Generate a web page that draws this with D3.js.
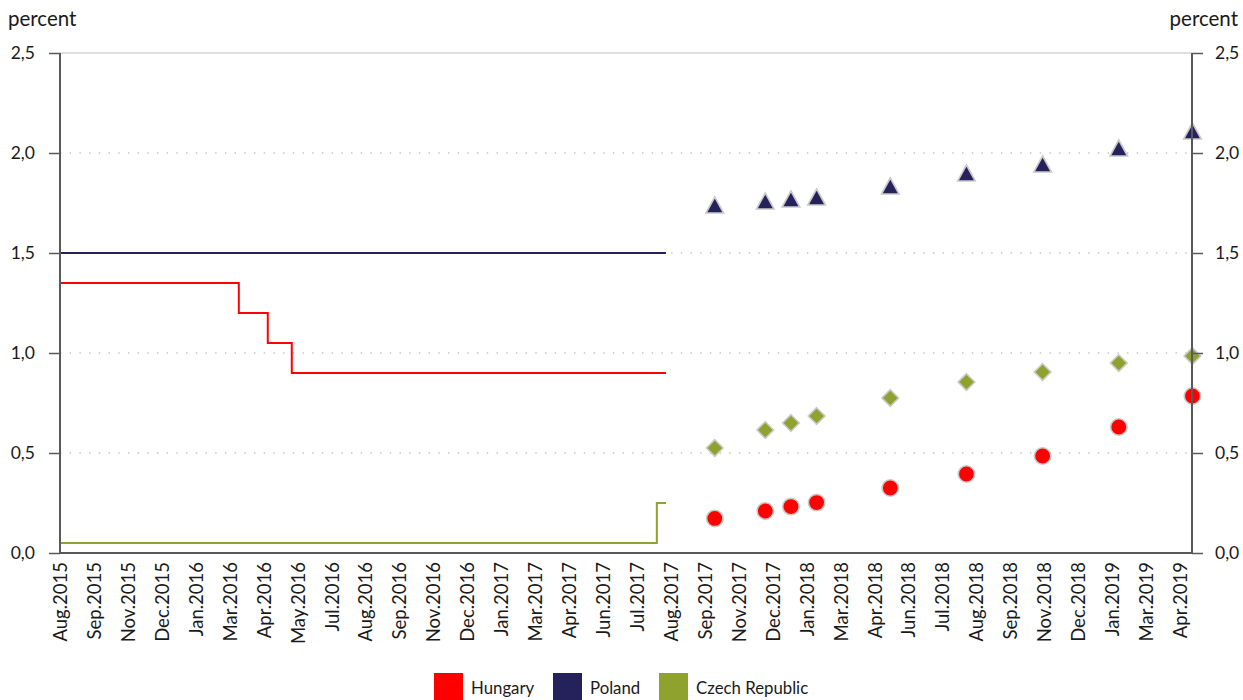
<!DOCTYPE html>
<html>
<head>
<meta charset="utf-8">
<script src="https://cdn.jsdelivr.net/npm/d3@7"></script>
<style>
  html, body { margin: 0; padding: 0; background: #fff; }
  svg { display: block; }
  text { font-family: Lato, "Open Sans", sans-serif; fill: #1a1a1a; }
</style>
</head>
<body>
<svg id="chart" width="1243" height="700"></svg>
<script>
// ---------- DATA ----------
const tickLabels = ["Aug.2015","Sep.2015","Nov.2015","Dec.2015","Jan.2016","Mar.2016","Apr.2016","May.2016",
  "Jul.2016","Aug.2016","Sep.2016","Nov.2016","Dec.2016","Jan.2017","Mar.2017","Apr.2017","Jun.2017","Jul.2017",
  "Aug.2017","Sep.2017","Nov.2017","Dec.2017","Jan.2018","Mar.2018","Apr.2018","Jun.2018","Jul.2018","Aug.2018",
  "Sep.2018","Nov.2018","Dec.2018","Jan.2019","Mar.2019","Apr.2019"];
const axisStart = "2015-08-18";
const tickStepDays = 41;
const yTicks = [0, 0.5, 1.0, 1.5, 2.0, 2.5];

// actual policy rates (step lines)
const hungaryRate = [["2015-08-18",1.35],["2016-03-21",1.20],["2016-04-25",1.05],["2016-05-24",0.90],["2017-08-19",0.90]];
const polandRate  = [["2015-08-18",1.50],["2017-08-19",1.50]];
const czechRate   = [["2015-08-18",0.05],["2017-08-08",0.25],["2017-08-19",0.25]];

// expected rates (markers)
const forecastDates = ["2017-10-17","2017-12-17","2018-01-17","2018-02-17","2018-05-17","2018-08-17","2018-11-17","2019-02-17","2019-05-17"];
const hungaryExp = [0.173,0.21,0.232,0.252,0.325,0.395,0.485,0.63,0.785];
const polandExp  = [1.74,1.76,1.77,1.78,1.835,1.90,1.945,2.025,2.11];
const czechExp   = [0.525,0.615,0.65,0.685,0.775,0.855,0.905,0.95,0.985];

const seriesNames = ["Hungary","Poland","Czech Republic"];
const seriesColors = ["#ff0000","#25215b","#8ea22d"];

// ---------- CHART ----------
(function () {
const parse = d3.utcParse("%Y-%m-%d");
const svg = d3.select("#chart");
const mLeft = 60, mRight = 1192, mTop = 53, mBottom = 553;

const t0 = parse(axisStart);
const tickDates = tickLabels.map((_, i) => d3.utcDay.offset(t0, i * tickStepDays));
const pxPerTick = 33.94;
const x = d3.scaleUtc().domain([t0, tickDates[tickDates.length-1]])
  .range([mLeft, mLeft + pxPerTick * (tickLabels.length - 1)]);
const y = d3.scaleLinear().domain([0, 2.5]).range([mBottom, mTop]);

// gridlines
svg.append("g").selectAll("line").data(yTicks.filter(v => v > 0 && v < 2.5)).join("line")
  .attr("x1", mLeft).attr("x2", mRight).attr("y1", d => y(d)).attr("y2", d => y(d))
  .attr("stroke", "#c4c4c4").attr("stroke-width", 1.4).attr("stroke-dasharray", "1.4,8.3");
svg.append("line").attr("x1", mLeft).attr("x2", mRight).attr("y1", y(2.5)).attr("y2", y(2.5))
  .attr("stroke", "#d4d4d4").attr("stroke-width", 1.5);

// step lines
const line = d3.line().x(d => x(parse(d[0]))).y(d => y(d[1])).curve(d3.curveStepAfter);
[[hungaryRate,0],[polandRate,1],[czechRate,2]].forEach(([data, i]) => {
  svg.append("path").datum(data).attr("d", line)
    .attr("fill", "none").attr("stroke", seriesColors[i]).attr("stroke-width", 2);
});

// markers
const markerStroke = "#c9c9c9";
const fd = forecastDates.map(parse);
svg.append("g").selectAll("path").data(polandExp).join("path")
  .attr("transform", (d, i) => `translate(${x(fd[i])},${y(d)})`)
  .attr("d", "M0,-8L8.8,8L-8.8,8Z")
  .attr("fill", seriesColors[1]).attr("stroke", markerStroke).attr("stroke-width", 1.6);
svg.append("g").selectAll("path").data(czechExp).join("path")
  .attr("transform", (d, i) => `translate(${x(fd[i])},${y(d)})`)
  .attr("d", "M0,-8.3L8.3,0L0,8.3L-8.3,0Z")
  .attr("fill", seriesColors[2]).attr("stroke", markerStroke).attr("stroke-width", 1.6);
svg.append("g").selectAll("circle").data(hungaryExp).join("circle")
  .attr("cx", (d, i) => x(fd[i])).attr("cy", d => y(d)).attr("r", 8.2)
  .attr("fill", seriesColors[0]).attr("stroke", markerStroke).attr("stroke-width", 1.6);

// axes
const axisColor = "#595959";
const fmt = d => d3.format(".1f")(d).replace(".", ",");
const yl = svg.append("g").attr("transform", `translate(${mLeft},0)`)
  .call(d3.axisLeft(y).tickValues(yTicks).tickSize(11).tickPadding(14).tickFormat(fmt));
const yr = svg.append("g").attr("transform", `translate(${mRight},0)`)
  .call(d3.axisRight(y).tickValues(yTicks).tickSize(11).tickPadding(12).tickFormat(fmt));
[yl, yr].forEach(g => {
  g.select(".domain").attr("stroke", axisColor).attr("stroke-width", 2).attr("d", `M0,${mTop}V${mBottom}`);
  g.selectAll(".tick line").attr("stroke", axisColor).attr("stroke-width", 1.5);
  g.selectAll(".tick text").attr("font-size", 17.5).attr("fill", "#1a1a1a").attr("font-family", "Lato, sans-serif");
});

const xa = svg.append("g").attr("transform", `translate(0,${mBottom})`)
  .call(d3.axisBottom(x).tickValues(tickDates).tickSize(0).tickFormat((d, i) => tickLabels[i]));
xa.select(".domain").attr("stroke", axisColor).attr("stroke-width", 2).attr("d", `M${mLeft},0H${mRight}`);
xa.selectAll(".tick text")
  .attr("font-size", 18.5).attr("fill", "#1a1a1a").attr("font-family", "Lato, sans-serif")
  .attr("text-anchor", "end").attr("transform", "rotate(-90)")
  .attr("x", -9).attr("y", 0).attr("dy", "0.35em");

// unit labels
svg.append("text").attr("x", 8).attr("y", 26).attr("font-size", 20.5).text("percent");
svg.append("text").attr("x", 1238).attr("y", 26).attr("font-size", 20.5).attr("text-anchor", "end").text("percent");

// legend
const legendX = [434, 553, 659];
const lg = svg.append("g");
seriesNames.forEach((name, i) => {
  lg.append("rect").attr("x", legendX[i]).attr("y", 673).attr("width", 29).attr("height", 27)
    .attr("fill", seriesColors[i]);
  lg.append("text").attr("x", legendX[i] + 37).attr("y", 694).attr("font-size", 16.8).text(name);
});
})();
</script>
</body>
</html>
